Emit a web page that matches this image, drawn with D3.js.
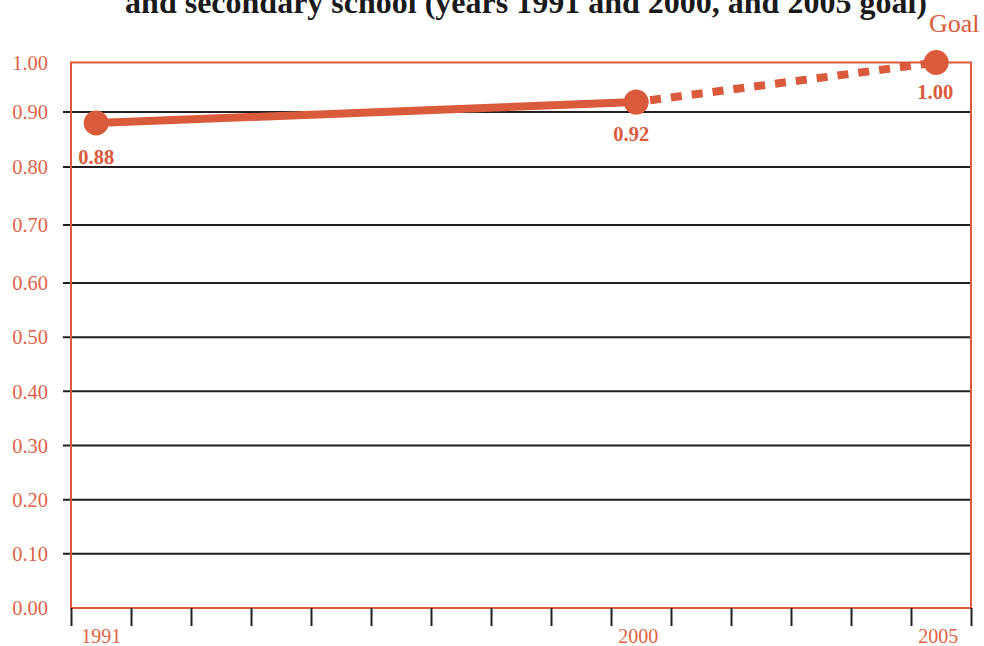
<!DOCTYPE html>
<html>
<head>
<meta charset="utf-8">
<script src="https://cdn.jsdelivr.net/npm/d3@7"></script>
<style>
  html, body { margin: 0; padding: 0; background: #fff; }
  svg { display: block; }
  text { font-family: "Liberation Serif", "Times New Roman", serif; }
</style>
</head>
<body>
<svg id="chart" width="984" height="646"></svg>
<script>
// Ratio values
const years = [1991, 2000, 2005];
const ratios = [0.88, 0.92, 1.00];
const pointLabels = ["0.88", "0.92", "1.00"];
const yearLabels = ["1991", "2000", "2005"];
const yTicks = [0, 0.1, 0.2, 0.3, 0.4, 0.5, 0.6, 0.7, 0.8, 0.9, 1.0];
const titleText = "and secondary school (years 1991 and 2000, and 2005 goal)";
const goalText = "Goal";

const accent = "#d95b3b";
const labelColor = "#de6246";
const gridColor = "#231f20";

const svg = d3.select("#chart");

const left = 71, right = 971;
// Frame runs from ~0.42 year before 1991 to ~0.56 after 2005
const xStart = 1990.58;
const x = d3.scaleLinear().domain([xStart, xStart + 15]).range([left, right]);

// Value axis, spacing as printed on the frame
const y = d3.scaleLinear()
  .domain([0, 0.6, 0.7, 0.8, 0.9, 1.0])
  .range([608, 283, 225, 167, 112, 62.5]);

// Title (second line of a two-line heading)
svg.append("text")
  .attr("x", 526).attr("y", 13)
  .attr("text-anchor", "middle")
  .attr("font-size", 32).attr("font-weight", "bold")
  .attr("fill", "#1a1a1a")
  .text(titleText);

// Horizontal gridlines
svg.append("g").selectAll("line")
  .data(yTicks.filter(d => d > 0 && d < 1))
  .join("line")
  .attr("x1", 63).attr("x2", right)
  .attr("y1", d => y(d)).attr("y2", d => y(d))
  .attr("stroke", gridColor).attr("stroke-width", 2);

// Frame
svg.append("rect")
  .attr("x", left).attr("y", y(1))
  .attr("width", right - left).attr("height", y(0) - y(1))
  .attr("fill", "none").attr("stroke", accent).attr("stroke-width", 2);

// Y tick labels
svg.append("g").selectAll("text")
  .data(yTicks)
  .join("text")
  .attr("x", 48).attr("y", d => y(d))
  .attr("dy", "0.35em")
  .attr("text-anchor", "end")
  .attr("font-size", 20.5)
  .attr("fill", labelColor)
  .text(d => d3.format(".2f")(d));

// X axis tick marks
const xAxis = d3.axisBottom(x)
  .tickValues(d3.range(16).map(i => xStart + i))
  .tickSize(18)
  .tickFormat("");
const gx = svg.append("g")
  .attr("transform", `translate(0,${y(0)})`)
  .call(xAxis);
gx.select(".domain").remove();
gx.selectAll(".tick line").attr("stroke", gridColor).attr("stroke-width", 2);

// Year labels
svg.append("g").selectAll("text")
  .data(years)
  .join("text")
  .attr("x", (d, i) => x(d) + [5, 2, 2][i])
  .attr("y", 643)
  .attr("text-anchor", "middle")
  .attr("font-size", 20)
  .attr("fill", labelColor)
  .text((d, i) => yearLabels[i]);

const pts = years.map((yr, i) => ({ year: yr, v: ratios[i] }));
const line = d3.line().x(d => x(d.year)).y(d => y(d.v));

// Actual trend (solid) and path to goal (dashed)
svg.append("path")
  .attr("d", line(pts.slice(0, 2)))
  .attr("fill", "none").attr("stroke", accent)
  .attr("stroke-width", 8);
svg.append("path")
  .attr("d", line(pts.slice(1, 3)))
  .attr("fill", "none").attr("stroke", accent)
  .attr("stroke-width", 8)
  .attr("stroke-dasharray", "11 10")
  .attr("stroke-dashoffset", -14);

// Markers
svg.append("g").selectAll("circle")
  .data(pts)
  .join("circle")
  .attr("cx", d => x(d.year)).attr("cy", d => y(d.v))
  .attr("r", 12.5)
  .attr("fill", accent);

// Value labels
svg.append("g").selectAll("text")
  .data(pts)
  .join("text")
  .attr("x", (d, i) => x(d.year) + [0, -5, -1][i])
  .attr("y", (d, i) => y(d.v) + [41, 39, 36][i])
  .attr("text-anchor", "middle")
  .attr("font-size", 20.5).attr("font-weight", "bold")
  .attr("fill", accent)
  .text((d, i) => pointLabels[i]);

// Goal label
svg.append("text")
  .attr("x", x(years[2]) + 18).attr("y", 32)
  .attr("text-anchor", "middle")
  .attr("font-size", 26)
  .attr("fill", accent)
  .text(goalText);
</script>
</body>
</html>
